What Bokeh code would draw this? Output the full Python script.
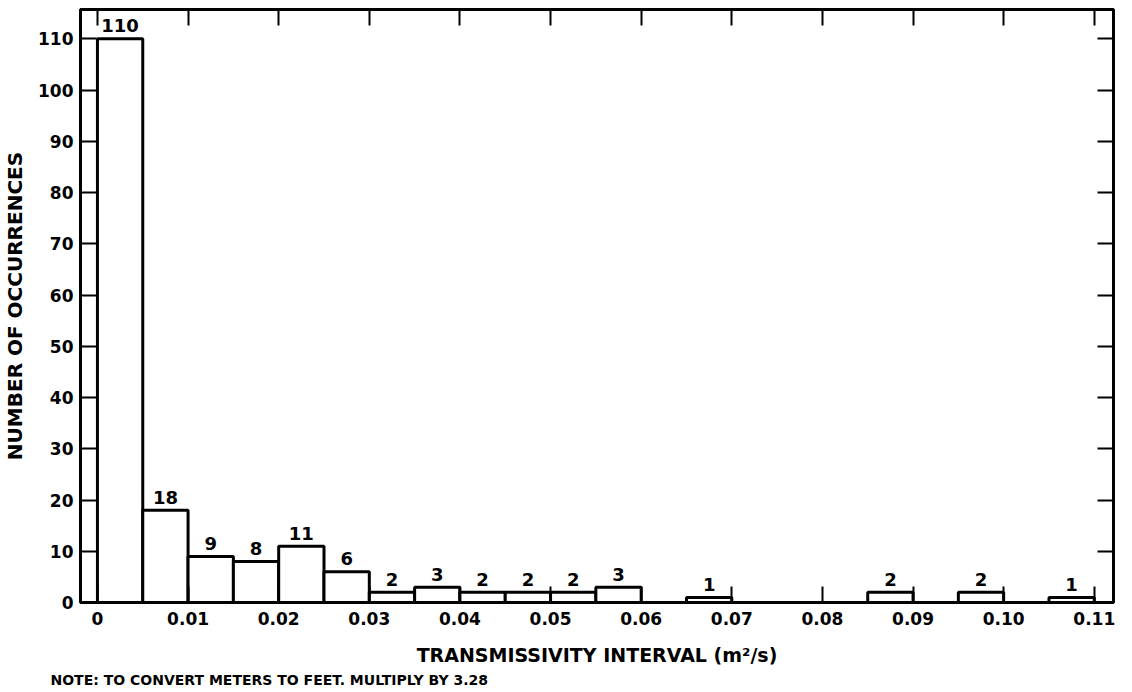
from bokeh.plotting import figure
from bokeh.models import ColumnDataSource, Range1d, LinearAxis, FixedTicker, Title
from bokeh.core.properties import value
from bokeh.embed import file_html
from bokeh.resources import INLINE

# ---- data ----
bin_start = [0.000, 0.005, 0.010, 0.015, 0.020, 0.025, 0.030, 0.035,
             0.040, 0.045, 0.050, 0.055, 0.065, 0.085, 0.095, 0.105]
counts = [110, 18, 9, 8, 11, 6, 2, 3, 2, 2, 2, 3, 1, 2, 2, 1]
bin_width = 0.005
x_tick_labels = ["0", "0.01", "0.02", "0.03", "0.04", "0.05", "0.06",
                 "0.07", "0.08", "0.09", "0.10", "0.11"]
y_ticks = [0, 10, 20, 30, 40, 50, 60, 70, 80, 90, 100, 110]

x_ticks = [float(s) for s in x_tick_labels]

FONT = "DejaVu Sans"

src = ColumnDataSource(dict(
    left=bin_start,
    right=[b + bin_width for b in bin_start],
    top=counts,
    bottom=[0] * len(counts),
    xc=[b + bin_width / 2 for b in bin_start],
    lab=[str(c) for c in counts],
))

p = figure(width=1116, height=688, output_backend="svg", toolbar_location=None,
           x_range=Range1d(-0.00187, 0.11212), y_range=Range1d(0, 115.72),
           min_border_left=75, min_border_right=3, min_border_top=9,
           min_border_bottom=86, x_axis_location=None, y_axis_location=None)
p.background_fill_color = "white"
p.border_fill_color = "white"
p.outline_line_color = "black"
p.outline_line_width = 3
p.xgrid.visible = False
p.ygrid.visible = False

p.quad(left="left", right="right", top="top", bottom="bottom", source=src,
       fill_color="white", line_color="black", line_width=3)
p.text(x="xc", y="top", text="lab", source=src, text_align="center",
       text_baseline="alphabetic", y_offset=-13, text_font=value(FONT),
       text_font_style="bold", text_font_size="18px", text_color="black")


def style(ax):
    ax.axis_line_color = "black"
    ax.axis_line_width = 3
    ax.major_tick_line_color = "black"
    ax.major_tick_line_width = 2
    ax.major_tick_in = 16
    ax.major_tick_out = 0
    ax.minor_tick_line_color = None
    ax.major_label_text_font = FONT
    ax.major_label_text_font_style = "bold"
    ax.major_label_text_color = "black"
    ax.major_label_text_font_size = "17px"


xb = LinearAxis(ticker=FixedTicker(ticks=x_ticks))
xb.major_label_overrides = {t: s for t, s in zip(x_ticks, x_tick_labels)}
style(xb)
xb.major_label_standoff = 9
xb.axis_label = "TRANSMISSIVITY INTERVAL (m²/s)"
xb.axis_label_text_font = FONT
xb.axis_label_text_font_style = "bold"
xb.axis_label_text_font_size = "19px"
xb.axis_label_text_color = "black"
xb.axis_label_standoff = 16
p.add_layout(xb, "below")

xt = LinearAxis(ticker=FixedTicker(ticks=x_ticks))
style(xt)
xt.major_label_overrides = {t: "" for t in x_ticks}
xt.major_label_text_font_size = "1px"
xt.major_label_standoff = 0
p.add_layout(xt, "above")

yl = LinearAxis(ticker=FixedTicker(ticks=y_ticks))
style(yl)
yl.major_label_standoff = 7
yl.axis_label = "NUMBER OF OCCURRENCES"
yl.axis_label_text_font = FONT
yl.axis_label_text_font_style = "bold"
yl.axis_label_text_font_size = "20px"
yl.axis_label_text_color = "black"
yl.axis_label_standoff = 8
p.add_layout(yl, "left")

yr = LinearAxis(ticker=FixedTicker(ticks=y_ticks))
style(yr)
yr.major_label_overrides = {t: "" for t in y_ticks}
yr.major_label_text_font_size = "1px"
yr.major_label_standoff = 0
p.add_layout(yr, "right")

note = Title(text="NOTE: TO CONVERT METERS TO FEET. MULTIPLY BY 3.28",
             align="left", offset=-30, standoff=2, text_font=FONT,
             text_font_style="bold", text_font_size="14px",
             text_color="black")
p.add_layout(note, "below")

open("out.html", "w").write(file_html(p, INLINE))
